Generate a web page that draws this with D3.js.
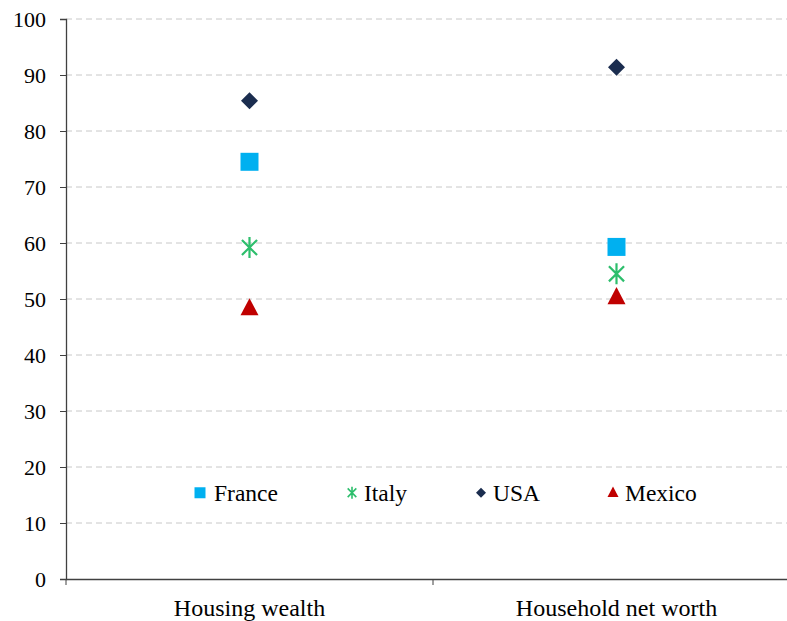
<!DOCTYPE html>
<html>
<head>
<meta charset="utf-8">
<script src="https://cdn.jsdelivr.net/npm/d3@7"></script>
<style>
  body { margin: 0; background: #fff; }
  svg text { font-family: 'Liberation Serif', 'Times New Roman', serif; fill: #000; }
</style>
</head>
<body>
<div id="chart"></div>
<script>
const categories = ['Housing wealth', 'Household net worth'];
const france = [74.5, 59.3];
const italy = [59.2, 54.5];
const usa = [85.4, 91.4];
const mexico = [48.3, 50.3];
const yTicks = [0, 10, 20, 30, 40, 50, 60, 70, 80, 90, 100];

const series = [
  { name: 'France', values: france, color: '#00B0F0', shape: 'square' },
  { name: 'Italy', values: italy, color: '#2DBE6C', shape: 'star' },
  { name: 'USA', values: usa, color: '#1B2D4F', shape: 'diamond' },
  { name: 'Mexico', values: mexico, color: '#C00000', shape: 'triangle' },
];

const width = 787;
const height = 621;
const margin = { top: 19, right: -13, bottom: 42, left: 66 };

const svg = d3.select('#chart')
  .append('svg')
  .attr('width', width)
  .attr('height', height);

const x = d3.scaleBand()
  .domain(categories)
  .range([margin.left, width - margin.right]);

const y = d3.scaleLinear()
  .domain([0, 100])
  .range([height - margin.bottom, margin.top]);

// gridlines
svg.append('g')
  .selectAll('line')
  .data(yTicks.filter(d => d > 0))
  .enter()
  .append('line')
  .attr('x1', margin.left)
  .attr('x2', width)
  .attr('y1', d => y(d))
  .attr('y2', d => y(d))
  .attr('stroke', '#c8c8c8')
  .attr('stroke-width', 1)
  .attr('stroke-dasharray', '6,4');

// y axis
const yAxis = svg.append('g')
  .attr('transform', `translate(${margin.left},0)`)
  .call(d3.axisLeft(y).tickValues(yTicks).tickSize(6).tickPadding(14));
yAxis.select('.domain').attr('stroke', '#404040').attr('stroke-width', 1.3);
yAxis.selectAll('.tick line').attr('stroke', '#404040');
yAxis.selectAll('text').style('font-size', '22px');

// x axis
const xAxis = svg.append('g')
  .attr('transform', `translate(0,${y(0)})`)
  .call(d3.axisBottom(x).tickSize(0).tickPadding(20));
xAxis.select('.domain').attr('stroke', '#404040').attr('stroke-width', 1.3);
xAxis.selectAll('text').style('font-size', '24px');

// category separator ticks
svg.append('g')
  .selectAll('line')
  .data(categories)
  .enter()
  .append('line')
  .attr('x1', d => x(d))
  .attr('x2', d => x(d))
  .attr('y1', y(0))
  .attr('y2', y(0) + 6)
  .attr('stroke', '#404040');

function symbolPath(shape, s) {
  if (shape === 'square') return `M${-s / 2},${-s / 2}h${s}v${s}h${-s}Z`;
  if (shape === 'diamond') return `M0,${-s / 2}L${s / 2},0L0,${s / 2}L${-s / 2},0Z`;
  if (shape === 'triangle') {
    const h = s * 0.95;
    return `M0,${-h * 0.6}L${s / 2},${h * 0.4}L${-s / 2},${h * 0.4}Z`;
  }
  const r = s / 2;
  const a = r * 0.72;
  return `M0,${-r}V${r}M${-a},${-a}L${a},${a}M${-a},${a}L${a},${-a}`;
}

function drawMarker(g, shape, color, s) {
  const p = g.append('path').attr('d', symbolPath(shape, s));
  if (shape === 'star') {
    p.attr('fill', 'none').attr('stroke', color).attr('stroke-width', s > 14 ? 2.2 : 1.6);
  } else {
    p.attr('fill', color);
  }
}

const sizes = { square: 18, diamond: 17, triangle: 18, star: 21 };

series.forEach((sr) => {
  sr.values.forEach((v, i) => {
    const g = svg.append('g')
      .attr('transform', `translate(${x(categories[i]) + x.bandwidth() / 2},${y(v)})`);
    drawMarker(g, sr.shape, sr.color, sizes[sr.shape]);
  });
});

// legend
const legendX = [200, 352, 481, 613];
const legendSizes = { square: 11, diamond: 10, triangle: 11, star: 12 };
const legend = svg.append('g').attr('transform', `translate(0,${y(15.4)})`);
series.forEach((sr, i) => {
  const g = legend.append('g').attr('transform', `translate(${legendX[i]},0)`);
  drawMarker(g, sr.shape, sr.color, legendSizes[sr.shape]);
  g.append('text')
    .attr('x', i === 0 ? 14 : 12)
    .attr('dy', '0.35em')
    .style('font-size', '23.5px')
    .text(sr.name);
});
</script>
</body>
</html>
